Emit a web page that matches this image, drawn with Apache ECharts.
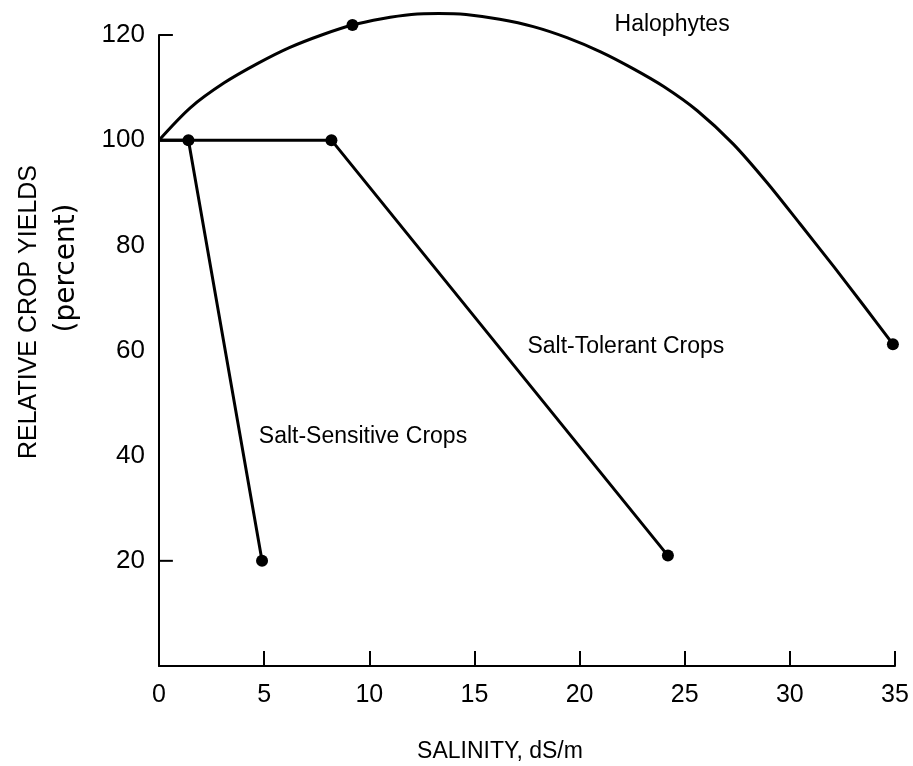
<!DOCTYPE html>
<html>
<head>
<meta charset="utf-8">
<script src="https://cdn.jsdelivr.net/npm/echarts@6/dist/echarts.min.js"></script>
<style>
html,body{margin:0;padding:0;background:#fff;}
#chart{width:913px;height:766px;}
</style>
</head>
<body>
<div id="chart"></div>
<script>
// ---- data ----
const xTicks = [0, 5, 10, 15, 20, 25, 30, 35];
const yTicks = [20, 40, 60, 80, 100, 120];
const yTickMarks = [20, 120];

const sensitiveX = [0, 1.4, 4.9];
const sensitiveY = [100, 100, 20];
const sensitiveDots = [1, 2];

const tolerantX = [0, 8.2, 24.2];
const tolerantY = [100, 100, 21];
const tolerantDots = [1, 2];

const haloX = [0, 1.5, 3.1, 4.7, 6.2, 7.8, 9.2, 10.6, 12.0, 13.3, 14.6, 16.2, 17.8, 19.4, 21.0, 22.5, 24.0, 25.6, 27.3, 28.9, 30.5, 32.1, 33.5, 34.9];
const haloY = [100, 106.2, 110.9, 114.6, 117.6, 120.1, 121.9, 123.1, 123.9, 124.1, 123.9, 123.0, 121.6, 119.5, 116.8, 113.7, 110.2, 105.6, 99.3, 92.0, 84.0, 75.9, 68.6, 61.2];
const haloDots = [6, 23];

const curveNames = ['Halophytes', 'Salt-Tolerant Crops', 'Salt-Sensitive Crops'];
const labelAnchorX = [24.4, 22.2, 9.7];
const labelAnchorY = [121.9, 60.7, 43.7];

const xTitle = 'SALINITY, dS/m';
const yTitle = 'RELATIVE CROP YIELDS';
const ySubTitle = '(percent)';

// ---- build ----
const FONT = '"Liberation Sans", Arial, Helvetica, sans-serif';
const zip = (xs, ys) => xs.map((x, i) => [x, ys[i]]);
const pick = (xs, ys, idx) => idx.map(i => [xs[i], ys[i]]);

const lineStyle = {color: '#000', width: 3};
const curve = (name, data, smooth) => ({
  type: 'line', name, data, showSymbol: false, symbol: 'none', smooth: smooth || false,
  lineStyle, clip: false, silent: true, z: 3
});
const dots = (data) => ({
  type: 'scatter', data, symbol: 'circle', symbolSize: 12,
  itemStyle: {color: '#000', opacity: 1}, clip: false, silent: true, z: 4
});

const tickLen = 0.66;
const tickSeries = yTickMarks.map(v => ({
  type: 'line', data: [[0, v], [tickLen, v]], symbol: 'none',
  lineStyle: {color: '#000', width: 2}, clip: false, silent: true, z: 2
}));

const chart = echarts.init(document.getElementById('chart'));
chart.setOption({
  animation: false,
  backgroundColor: '#fff',
  grid: {left: 159, right: 18, top: 35, bottom: 100, outerBoundsMode: 'none'},
  xAxis: {
    type: 'value', min: 0, max: 35, interval: 5,
    axisLine: {show: true, lineStyle: {color: '#000', width: 2}},
    axisTick: {show: true, inside: true, length: 15, lineStyle: {color: '#000', width: 2}},
    axisLabel: {color: '#000', fontFamily: FONT, fontSize: 25, margin: 17,
      formatter: v => xTicks.includes(v) ? String(v) : ''},
    splitLine: {show: false}
  },
  yAxis: {
    type: 'value', min: 0, max: 120, interval: 20,
    axisLine: {show: true, lineStyle: {color: '#000', width: 2}},
    axisTick: {show: false},
    axisLabel: {color: '#000', fontFamily: FONT, fontSize: 26, margin: 14, showMinLabel: false,
      formatter: v => yTicks.includes(v) ? String(v) : ''},
    splitLine: {show: false}
  },
  graphic: [
    {type: 'text', x: 500, y: 752, style: {text: xTitle, font: '23px ' + FONT, fill: '#000',
      align: 'center', verticalAlign: 'middle', textAlign: 'center', textVerticalAlign: 'middle'}},
    {type: 'text', x: 29, y: 312, rotation: Math.PI / 2, style: {text: yTitle, font: '25px ' + FONT, fill: '#000',
      align: 'center', verticalAlign: 'middle', textAlign: 'center', textVerticalAlign: 'middle'}},
    {type: 'text', x: 67, y: 268, rotation: Math.PI / 2, style: {text: ySubTitle, font: '28px "DejaVu Sans", sans-serif', fill: '#000',
      align: 'center', verticalAlign: 'middle', textAlign: 'center', textVerticalAlign: 'middle'}}
  ],
  series: [
    curve(curveNames[0], zip(haloX, haloY), 0.3),
    curve(curveNames[1], zip(tolerantX, tolerantY)),
    curve(curveNames[2], zip(sensitiveX, sensitiveY)),
    dots([].concat(pick(haloX, haloY, haloDots), pick(tolerantX, tolerantY, tolerantDots), pick(sensitiveX, sensitiveY, sensitiveDots))),
    ...tickSeries,
    {
      type: 'scatter', symbolSize: 0, clip: false, silent: true, z: 5,
      data: curveNames.map((n, i) => ({name: n, value: [labelAnchorX[i], labelAnchorY[i]]})),
      itemStyle: {opacity: 1},
      label: {show: true, position: 'inside', formatter: p => p.name, color: '#000',
        fontFamily: FONT, fontSize: 23}
    }
  ]
});
</script>
</body>
</html>
